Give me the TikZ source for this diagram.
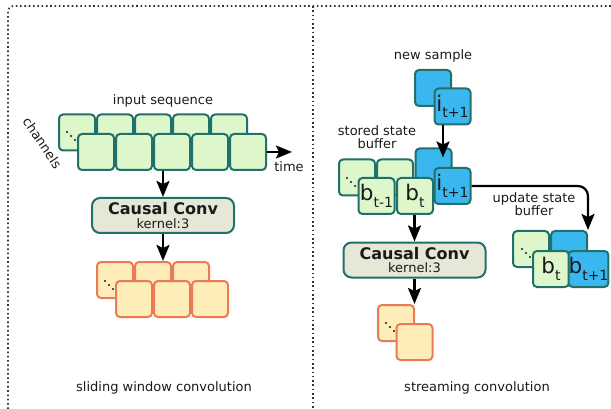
\documentclass[tikz,border=0pt]{standalone}
\usepackage{fontspec}
\setmainfont{DejaVu Sans}
\usetikzlibrary{arrows.meta}
\definecolor{tealb}{HTML}{21706A}
\definecolor{greenf}{HTML}{DDF7CA}
\definecolor{bluef}{HTML}{3AB7EF}
\definecolor{orb}{HTML}{EC7A56}
\definecolor{orf}{HTML}{FFEDB9}
\definecolor{convf}{HTML}{E5E8D6}
\definecolor{txt}{HTML}{1A1A1A}
\tikzset{
  cell/.style={draw=tealb, line width=2pt, rounded corners=4pt, minimum width=36pt, minimum height=36pt, inner sep=0pt},
  gcell/.style={cell, fill=greenf},
  bcell/.style={cell, fill=bluef},
  ocell/.style={cell, draw=orb, fill=orf},
  convbox/.style={draw=tealb, line width=2pt, fill=convf, rounded corners=8pt, minimum width=142pt, minimum height=35pt, inner sep=0pt, align=center, font=\fontsize{13}{15}\selectfont, text=txt},
  arr/.style={line width=2.2pt, -{Stealth[length=16pt,width=13pt,inset=3pt]}},
  lbl/.style={font=\fontsize{13}{15}\selectfont, align=center, text=txt},
  big/.style={font=\fontsize{21.5}{22}\selectfont, text=txt},
  frameline/.style={line width=1.6pt, dash pattern=on 1.6pt off 2.7pt, color=black!80},
  dotc/.style={fill=txt}
}
\newcommand{\sbs}[1]{\raisebox{-0.3em}{\fontsize{14}{14}\selectfont #1}}
\begin{document}
\begin{tikzpicture}[x=1pt,y=-1pt]
\useasboundingbox (0,0) rectangle (611,409);
% frame
\draw[frameline, rounded corners=5pt] (8,409) -- (8,6) -- (611,6);
\draw[frameline] (313,6) -- (313,409);

% ---------- left panel ----------
\node[lbl] (inlbl) at (163,101) {input sequence};
\node[lbl, rotate=-56] (chlbl) at (42.5,143) {channels};
\foreach \i in {0,...,4} \node[gcell] (ib\i) at ({77+38*\i},132.5) {};
\fill[dotc] (67,132) circle (1.1pt) (71,136) circle (1.1pt) (75,140) circle (1.1pt);
\foreach \i in {0,...,4} \node[gcell] (if\i) at ({96+38*\i},152) {};
\coordinate (tend) at (292,152);
\draw[arr] (if4.east) -- (tend);
\node[lbl] (timelbl) at (289,167) {time};

\node[convbox] (conv1) at (163,215.5) {{\bfseries\fontsize{16}{16}\selectfont Causal Conv}\\[-1.5pt]kernel:3};
\draw[arr] (conv1.north |- if0.south) -- (conv1.north);

\foreach \i in {0,...,2} \node[ocell] (ob\i) at ({115+38*\i},280) {};
\fill[dotc] (105,281) circle (1.1pt) (109,285) circle (1.1pt) (113,289) circle (1.1pt);
\foreach \i in {0,...,2} \node[ocell] (of\i) at ({134+38*\i},299) {};
\draw[arr] (conv1.south) -- (conv1.south |- ob1.north);

\node[lbl] (lcap) at (164,388) {sliding window convolution};

% ---------- right panel ----------
\node[lbl] (nslbl) at (433,56) {new sample};
\node[bcell] (ns1) at (433,88) {};
\node[bcell, big] (ns2) at (452.5,106.5) {i\sbs{t+1}};

\node[lbl] (sblbl) at (377,137.5) {stored state\\[-2pt]buffer};
\node[gcell] (gb0) at (357,177.5) {};
\node[gcell] (gb1) at (395,177.5) {};
\fill[dotc] (347,178) circle (1.1pt) (351,182) circle (1.1pt) (355,186) circle (1.1pt);
\node[bcell] (bb) at (433.5,166.5) {};
\node[gcell, big] (gf0) at (376.5,196) {b\sbs{t-1}};
\node[gcell, big] (gf1) at (415,196) {b\sbs{t}};
\node[bcell, big] (bf) at (452.5,186) {i\sbs{t+1}};
\draw[arr] ([xshift=-9.5pt]ns2.south) -- ([xshift=9.5pt,yshift=-10pt]bb.north);

\node[convbox] (conv2) at (414.5,260) {{\bfseries\fontsize{16}{16}\selectfont Causal Conv}\\[-1.5pt]kernel:3};
\draw[arr] (conv2.north |- gf1.south) -- (conv2.north);

\node[ocell] (ro0) at (396,323) {};
\fill[dotc] (386,323) circle (1.1pt) (390,327) circle (1.1pt) (394,331) circle (1.1pt);
\node[ocell] (ro1) at (414.5,342) {};
\draw[arr] (conv2.south) -- (conv2.south |- ro0.north);

\node[lbl] (uplbl) at (534,204.5) {update state\\[-2pt]buffer};
\node[gcell] (ugb) at (531,249) {};
\fill[dotc] (522,249) circle (1.1pt) (526,253) circle (1.1pt) (530,257) circle (1.1pt);
\node[bcell] (ubb) at (569,249) {};
\node[gcell, big] (ugf) at (551,269) {b\sbs{t}};
\node[bcell, big] (ubf) at (588.5,269) {b\sbs{t+1}};
\draw[arr, rounded corners=10pt] (bf.east) -| (ubb.north east);

\node[lbl] (rcap) at (477,388) {streaming convolution};
\end{tikzpicture}
\end{document}
